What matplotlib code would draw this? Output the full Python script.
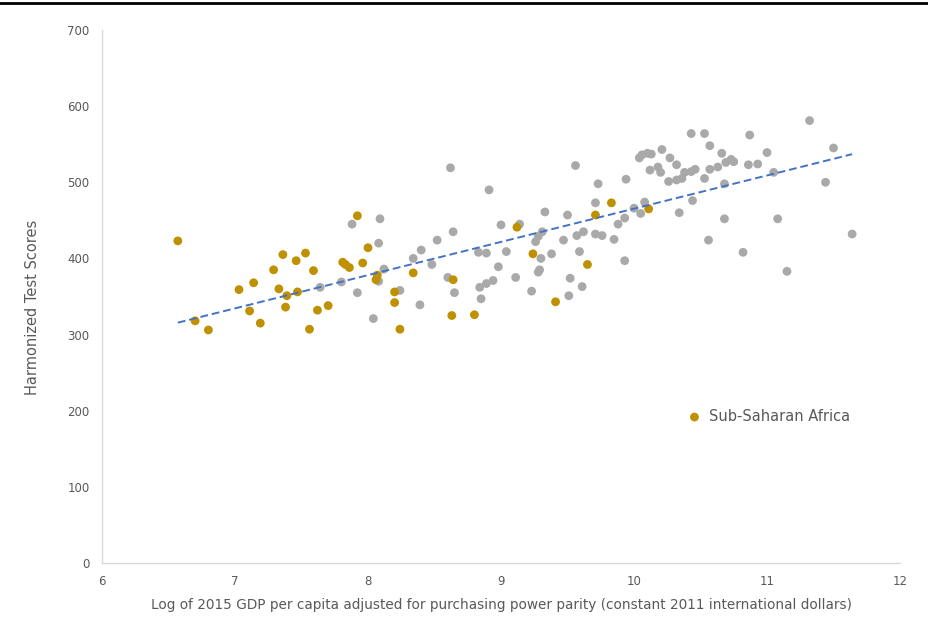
import matplotlib.pyplot as plt
from matplotlib.lines import Line2D
import numpy as np

# Sub-Saharan Africa countries (log GDP per capita, test score)
ssa_x = [6.57, 6.70, 6.80, 7.03, 7.11, 7.14, 7.19, 7.29, 7.33, 7.36, 7.39, 7.38, 7.46, 7.47,
         7.53, 7.59, 7.56, 7.62, 7.70, 7.81, 7.83, 7.86, 7.92, 7.96, 8.00, 8.07, 8.06, 8.20,
         8.20, 8.24, 8.34, 8.63, 8.64, 8.80, 9.12, 9.24, 9.41, 9.65, 9.71, 9.83, 10.11]
ssa_y = [423, 318, 306, 359, 331, 368, 315, 385, 360, 405, 351, 336, 397, 356,
         407, 384, 307, 332, 338, 395, 392, 388, 456, 394, 414, 378, 372, 356,
         342, 307, 381, 325, 372, 326, 441, 406, 343, 392, 457, 473, 465]

# all other countries
other_x = [7.64, 7.80, 7.88, 7.92, 8.04, 8.08, 8.08, 8.09, 8.12, 8.24, 8.34, 8.39, 8.40, 8.48,
           8.52, 8.60, 8.62, 8.64, 8.65, 8.83, 8.84, 8.85, 8.89, 8.89, 8.91, 8.94, 8.98, 9.00,
           9.04, 9.11, 9.14, 9.23, 9.26, 9.28, 9.28, 9.29, 9.30, 9.31, 9.33, 9.38, 9.47, 9.50,
           9.51, 9.52, 9.56, 9.57, 9.59, 9.61, 9.62, 9.71, 9.71, 9.73, 9.76, 9.85, 9.88, 9.93,
           9.93, 9.94, 10.00, 10.04, 10.05, 10.06, 10.08, 10.10, 10.12, 10.13, 10.18, 10.20,
           10.21, 10.26, 10.27, 10.32, 10.32, 10.34, 10.36, 10.38, 10.43, 10.43, 10.44, 10.46,
           10.53, 10.53, 10.56, 10.57, 10.57, 10.63, 10.66, 10.68, 10.68, 10.69, 10.73, 10.75,
           10.82, 10.86, 10.87, 10.93, 11.00, 11.05, 11.08, 11.15, 11.32, 11.44, 11.50, 11.64]
other_y = [362, 369, 445, 355, 321, 420, 370, 452, 386, 358, 400, 339, 411, 392,
           424, 375, 519, 435, 355, 408, 362, 347, 407, 367, 490, 371, 389, 444,
           409, 375, 445, 357, 422, 429, 382, 385, 400, 435, 461, 406, 424, 457,
           351, 374, 522, 430, 409, 363, 435, 473, 432, 498, 430, 425, 445, 453,
           397, 504, 466, 532, 459, 536, 474, 538, 516, 537, 520, 513,
           543, 501, 532, 523, 503, 460, 505, 513, 514, 564, 476, 517,
           505, 564, 424, 548, 517, 520, 538, 452, 498, 526, 530, 527,
           408, 523, 562, 524, 539, 513, 452, 383, 581, 500, 545, 432]

GOLD = '#BF9000'
GRAY = '#A9A9A9'
TXT = '#595959'

fig = plt.figure(figsize=(9.29, 6.27), dpi=100)
ax = fig.add_axes([0.1098, 0.1021, 0.859, 0.8501])

ax.scatter(other_x, other_y, s=40, color=GRAY, edgecolors='none', zorder=2)
ax.scatter(ssa_x, ssa_y, s=40, color=GOLD, edgecolors='none', zorder=3,
           label='Sub-Saharan Africa')

# linear trend over all countries
all_x = np.array(ssa_x + other_x)
all_y = np.array(ssa_y + other_y)
slope, icpt = np.polyfit(all_x, all_y, 1)
tx = np.array([all_x.min(), all_x.max()])
ax.plot(tx, slope * tx + icpt, linestyle=(0, (4, 2)), color='#4472C4', lw=1.4, zorder=4)

ax.set_xlim(6, 12)
ax.set_ylim(0, 700)
ax.set_xticks(range(6, 13))
ax.set_yticks(range(0, 701, 100))
ax.tick_params(length=0, labelsize=8.5, labelcolor=TXT, pad=9)

for s in ['top', 'right']:
    ax.spines[s].set_visible(False)
for s in ['left', 'bottom']:
    ax.spines[s].set_color('#D9D9D9')
    ax.spines[s].set_linewidth(1)

ax.set_xlabel('Log of 2015 GDP per capita adjusted for purchasing power parity (constant 2011 international dollars)',
              fontsize=9.8, color=TXT, labelpad=7)
ax.set_ylabel('Harmonized Test Scores', fontsize=10.5, color=TXT)
ax.yaxis.set_label_coords(-0.078, 0.48)

ax.legend(loc='center left', bbox_to_anchor=(0.715, 0.275), frameon=False, fontsize=10.5,
          handletextpad=0.0, markerscale=1.0, labelcolor=TXT, borderpad=0)

# page rule across the top
fig.add_artist(Line2D([0, 1], [0.996, 0.996], transform=fig.transFigure, color='black', lw=2))

fig.savefig('out.png', dpi=100)
